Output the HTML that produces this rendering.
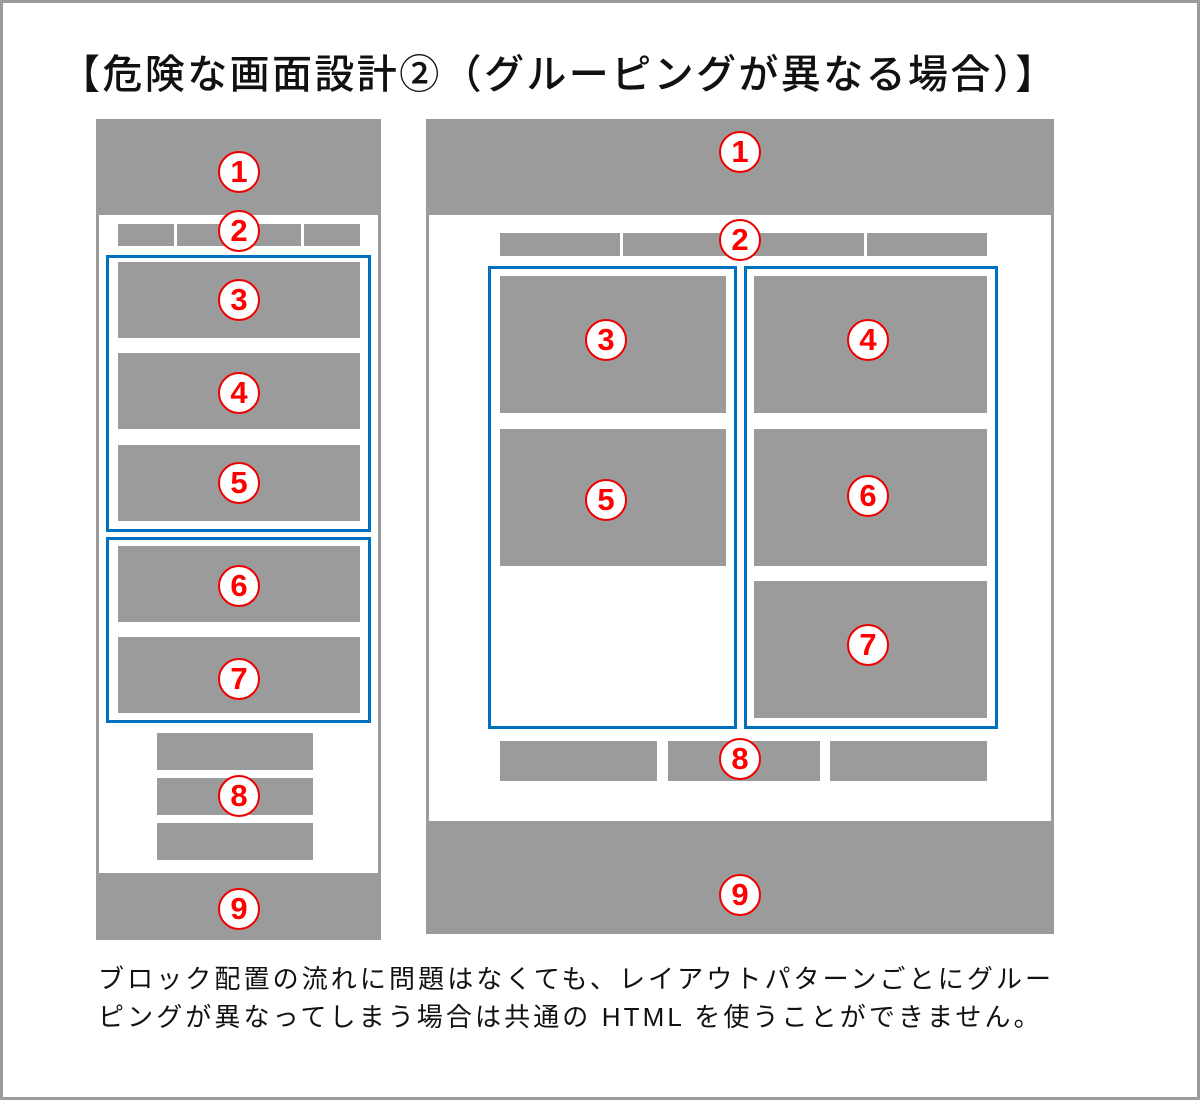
<!DOCTYPE html>
<html><head><meta charset="utf-8"><style>
body{margin:0;width:1200px;height:1100px;position:relative;background:#fff;overflow:hidden;font-family:"Liberation Sans","Noto Sans CJK JP",sans-serif}
.frame{position:absolute;left:0;top:0;width:1194px;height:1094px;border:3px solid #9b9b9b}
.g{position:absolute;background:#9b9b9b}
.w{position:absolute;background:#fff}
.b{position:absolute;border:3px solid #0070c0;box-sizing:border-box}
.m{position:absolute;width:42px;height:42px;border-radius:50%;background:#fff;border:2px solid #e00;box-sizing:border-box;color:#f00;font-weight:bold;font-size:31px;line-height:38px;text-align:center;transform:translate(-50%,-50%);font-family:"Liberation Sans",sans-serif}
.t{position:absolute;white-space:nowrap;color:#111}
</style></head><body>
<div class="frame"></div>
<div class="t" style="left:60px;top:50px;font-size:40px;font-weight:500;line-height:50px;letter-spacing:2.4px">【危険な画面設計②（グルーピングが異なる場合）】</div>

<!-- left -->
<div class="g" style="left:96px;top:119px;width:285px;height:821px"></div>
<div class="w" style="left:99px;top:215px;width:279px;height:658px"></div>
<div class="g" style="left:118px;top:224px;width:56px;height:22px"></div>
<div class="g" style="left:177px;top:224px;width:61px;height:22px"></div>
<div class="g" style="left:241px;top:224px;width:60px;height:22px"></div>
<div class="g" style="left:304px;top:224px;width:56px;height:22px"></div>
<div class="b" style="left:106px;top:255px;width:265px;height:277px"></div>
<div class="g" style="left:118px;top:262px;width:242px;height:76px"></div>
<div class="g" style="left:118px;top:353px;width:242px;height:76px"></div>
<div class="g" style="left:118px;top:445px;width:242px;height:76px"></div>
<div class="b" style="left:106px;top:537px;width:265px;height:186px"></div>
<div class="g" style="left:118px;top:546px;width:242px;height:76px"></div>
<div class="g" style="left:118px;top:637px;width:242px;height:76px"></div>
<div class="g" style="left:157px;top:733px;width:156px;height:37px"></div>
<div class="g" style="left:157px;top:778px;width:156px;height:37px"></div>
<div class="g" style="left:157px;top:823px;width:156px;height:37px"></div>

<!-- right -->
<div class="g" style="left:426px;top:119px;width:628px;height:815px"></div>
<div class="w" style="left:429px;top:215px;width:622px;height:606px"></div>
<div class="g" style="left:500px;top:233px;width:120px;height:23px"></div>
<div class="g" style="left:623px;top:233px;width:117px;height:23px"></div>
<div class="g" style="left:743px;top:233px;width:121px;height:23px"></div>
<div class="g" style="left:867px;top:233px;width:120px;height:23px"></div>
<div class="b" style="left:488px;top:266px;width:249px;height:463px"></div>
<div class="b" style="left:744px;top:266px;width:254px;height:463px"></div>
<div class="g" style="left:500px;top:276px;width:226px;height:137px"></div>
<div class="g" style="left:500px;top:429px;width:226px;height:137px"></div>
<div class="g" style="left:754px;top:276px;width:233px;height:137px"></div>
<div class="g" style="left:754px;top:429px;width:233px;height:137px"></div>
<div class="g" style="left:754px;top:581px;width:233px;height:137px"></div>
<div class="g" style="left:500px;top:741px;width:157px;height:40px"></div>
<div class="g" style="left:668px;top:741px;width:152px;height:40px"></div>
<div class="g" style="left:830px;top:741px;width:157px;height:40px"></div>

<!-- markers -->
<div class="m" style="left:239px;top:172px">1</div>
<div class="m" style="left:239px;top:231px">2</div>
<div class="m" style="left:239px;top:300px">3</div>
<div class="m" style="left:239px;top:393px">4</div>
<div class="m" style="left:239px;top:483px">5</div>
<div class="m" style="left:239px;top:586px">6</div>
<div class="m" style="left:239px;top:679px">7</div>
<div class="m" style="left:239px;top:796px">8</div>
<div class="m" style="left:239px;top:909px">9</div>
<div class="m" style="left:740px;top:152px">1</div>
<div class="m" style="left:740px;top:240px">2</div>
<div class="m" style="left:606px;top:340px">3</div>
<div class="m" style="left:868px;top:340px">4</div>
<div class="m" style="left:606px;top:500px">5</div>
<div class="m" style="left:868px;top:496px">6</div>
<div class="m" style="left:868px;top:645px">7</div>
<div class="m" style="left:740px;top:759px">8</div>
<div class="m" style="left:740px;top:895px">9</div>

<div class="t" style="left:98px;top:960px;font-size:26px;line-height:38px;letter-spacing:3.1px">ブロック配置の流れに問題はなくても、レイアウトパターンごとにグルー<br>ピングが異なってしまう場合は共通の HTML を使うことができません。</div>
</body></html>
